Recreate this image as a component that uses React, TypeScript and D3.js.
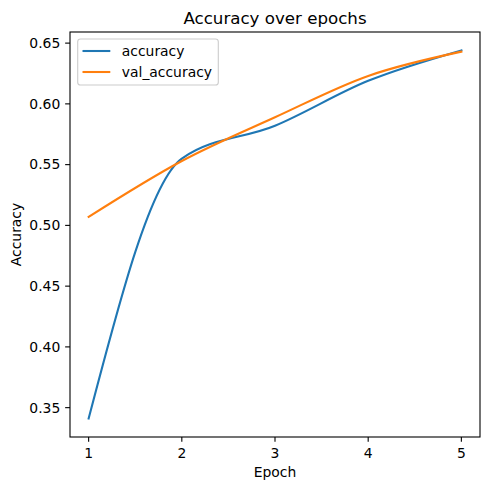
import React from "react";
import * as d3 from "d3";

const epochs = [1, 2, 3, 4, 5];
const accuracy = [0.341, 0.555, 0.582, 0.619, 0.644];
const valAccuracy = [0.507, 0.553, 0.589, 0.623, 0.643];
const xTicks = [1, 2, 3, 4, 5];
const yTicks = [0.35, 0.4, 0.45, 0.5, 0.55, 0.6, 0.65];

const W = 490, H = 490;
const L = 70, R = 480, T = 32, B = 437;
const FONT = "DejaVu Sans, sans-serif";

export default function App() {
  const x = d3.scaleLinear().domain([0.8, 5.2]).range([L, R]);
  const all = [...accuracy, ...valAccuracy];
  const mn = d3.min(all)!, mx = d3.max(all)!;
  const pad = (mx - mn) * 0.05;
  const y = d3.scaleLinear().domain([mn - pad, mx + pad]).range([B, T]);
  const line = d3
    .line<[number, number]>()
    .x((d) => x(d[0]))
    .y((d) => y(d[1]))
    .curve(d3.curveMonotoneX);
  const series = [
    { name: "accuracy", values: accuracy, color: "#1f77b4" },
    { name: "val_accuracy", values: valAccuracy, color: "#ff7f0e" },
  ];
  return (
    <svg width={W} height={H} style={{ position: "absolute", left: 0, top: 0 }} fontFamily={FONT}>
      <rect x={0} y={0} width={W} height={H} fill="white" />
      <defs>
        <clipPath id="clip">
          <rect x={L} y={T} width={R - L} height={B - T} />
        </clipPath>
      </defs>
      <g clipPath="url(#clip)">
        {series.map((s) => (
          <path
            key={s.name}
            d={line(epochs.map((e, i) => [e, s.values[i]] as [number, number])) || ""}
            fill="none"
            stroke={s.color}
            strokeWidth={2.08}
            strokeLinecap="square"
          />
        ))}
      </g>
      <rect x={L} y={T} width={R - L} height={B - T} fill="none" stroke="black" strokeWidth={1.1} />
      {xTicks.map((t) => (
        <g key={t}>
          <line x1={x(t)} x2={x(t)} y1={B} y2={B + 4.86} stroke="black" strokeWidth={1.1} />
          <text x={x(t)} y={457.5} fontSize={13.9} textAnchor="middle" fill="black">
            {t}
          </text>
        </g>
      ))}
      {yTicks.map((t) => (
        <g key={t}>
          <line x1={L - 4.86} x2={L} y1={y(t)} y2={y(t)} stroke="black" strokeWidth={1.1} />
          <text x={60.3} y={y(t)} dy="0.35em" fontSize={13.9} textAnchor="end" fill="black">
            {t.toFixed(2)}
          </text>
        </g>
      ))}
      <text x={(L + R) / 2} y={23.7} fontSize={16.67} textAnchor="middle" fill="black">
        Accuracy over epochs
      </text>
      <text x={(L + R) / 2} y={476.5} fontSize={13.9} textAnchor="middle" fill="black">
        Epoch
      </text>
      <text
        transform={`translate(21,${(T + B) / 2}) rotate(-90)`}
        fontSize={13.9}
        textAnchor="middle"
        fill="black"
      >
        Accuracy
      </text>
      <g>
        <rect x={77.7} y={39} width={140.6} height={46} rx={2.8} fill="white" fillOpacity={0.8} stroke="#cccccc" strokeWidth={1.1} />
        {series.map((s, i) => (
          <g key={s.name}>
            <line x1={82.5} x2={110.3} y1={51 + i * 21} y2={51 + i * 21} stroke={s.color} strokeWidth={2.08} />
            <text x={121.8} y={51 + i * 21} dy="0.35em" fontSize={13.9} fill="black">
              {s.name}
            </text>
          </g>
        ))}
      </g>
    </svg>
  );
}
